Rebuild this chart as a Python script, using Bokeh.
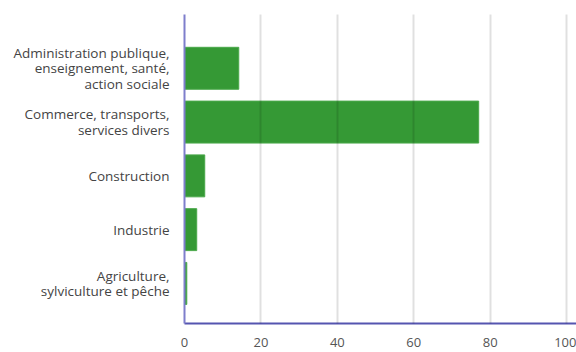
from bokeh.plotting import figure
from bokeh.models import FixedTicker, Range1d, ColumnDataSource
from bokeh.embed import file_html
from bokeh.resources import INLINE

categories = [
    "Agriculture,\nsylviculture et pêche",
    "Industrie",
    "Construction",
    "Commerce, transports,\nservices divers",
    "Administration publique,\nenseignement, santé,\naction sociale",
]
values = [0.6, 3.2, 5.3, 77.0, 14.2]
x_ticks = [0, 20, 40, 60, 80, 100]

positions = list(range(len(categories)))
src = ColumnDataSource(dict(y=positions, right=values))

p = figure(width=576, height=352, output_backend="svg", toolbar_location=None,
           x_range=Range1d(0, 102.6), y_range=Range1d(-0.745, 5.0),
           min_border_left=184, min_border_top=14, min_border_bottom=29, min_border_right=0)
p.outline_line_color = None
p.background_fill_color = "white"
p.border_fill_color = "white"

p.hbar(y="y", left=0, right="right", height=0.78, source=src,
       fill_color="#359935", line_color="#4aa84a", line_width=1)

p.xgrid.ticker = FixedTicker(ticks=x_ticks)
p.xgrid.grid_line_color = "#000000"
p.xgrid.grid_line_alpha = 0.12
p.xgrid.grid_line_width = 2
p.xgrid.level = "overlay"
p.ygrid.grid_line_color = None

p.xaxis.ticker = FixedTicker(ticks=x_ticks)
p.xaxis.axis_line_color = "#5555b0"
p.xaxis.axis_line_width = 2
p.xaxis.major_tick_line_color = None
p.xaxis.minor_tick_line_color = None
p.xaxis.major_label_standoff = 8
p.xaxis.major_label_text_font = "Open Sans"
p.xaxis.major_label_text_font_size = "13px"
p.xaxis.major_label_text_color = "#555555"

p.yaxis.ticker = FixedTicker(ticks=positions)
p.yaxis.major_label_overrides = {i: c for i, c in enumerate(categories)}
p.yaxis.axis_line_color = "#7e7ecc"
p.yaxis.axis_line_width = 2
p.yaxis.major_tick_line_color = None
p.yaxis.minor_tick_line_color = None
p.yaxis.major_label_standoff = 9
p.yaxis.major_label_text_font = "Open Sans"
p.yaxis.major_label_text_font_size = "13.5px"
p.yaxis.major_label_text_line_height = 0.87
p.yaxis.major_label_text_color = "#444444"
p.yaxis.major_label_text_align = "right"

open("out.html", "w").write(file_html(p, INLINE))
